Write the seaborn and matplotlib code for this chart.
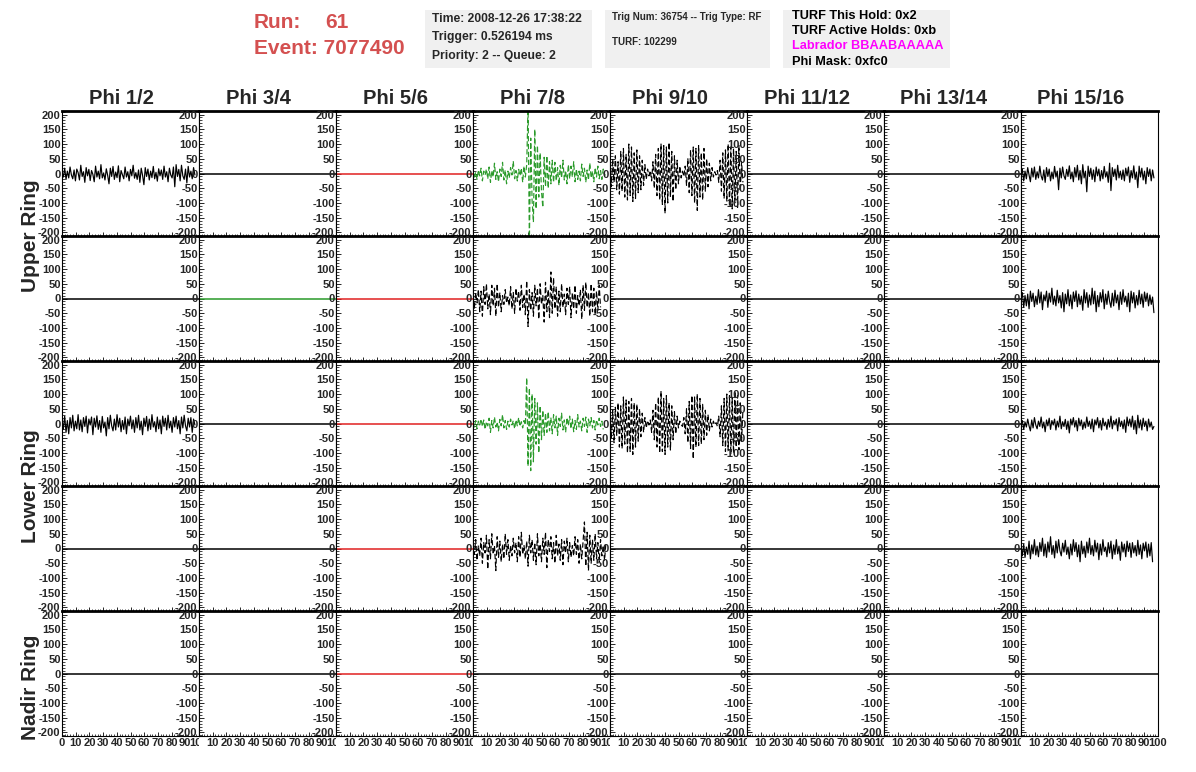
import numpy as np
import matplotlib
matplotlib.use("Agg")
import matplotlib.pyplot as plt
import seaborn as sns
from matplotlib.patches import Rectangle
from matplotlib.transforms import Bbox, TransformedBbox
from matplotlib.ticker import MultipleLocator

sns.set_style("ticks")
plt.rcParams["font.family"] = ["Liberation Sans", "DejaVu Sans"]

# ---------------- data ----------------
RUN = "61"
EVENT = "7077490"
INFO_TIME = ["Time: 2008-12-26 17:38:22", "Trigger: 0.526194 ms", "Priority: 2 -- Queue: 2"]
INFO_TRIG = ["Trig Num: 36754 -- Trig Type: RF", "TURF: 102299"]
INFO_TURF = ["TURF This Hold: 0x2", "TURF Active Holds: 0xb", "Labrador BBAABAAAAA", "Phi Mask: 0xfc0"]

PHI_LABELS = ["Phi 1/2", "Phi 3/4", "Phi 5/6", "Phi 7/8", "Phi 9/10", "Phi 11/12", "Phi 13/14", "Phi 15/16"]
RING_LABELS = ["Upper Ring", "Lower Ring", "Nadir Ring"]
X_TICKS = [0, 10, 20, 30, 40, 50, 60, 70, 80, 90, 100]
X_TICK_LABELS = ["0", "10", "20", "30", "40", "50", "60", "70", "80", "90", "100"]
Y_TICKS = [-200, -150, -100, -50, 0, 50, 100, 150, 200]
Y_TICK_LABELS = ["-200", "-150", "-100", "-50", "0", "50", "100", "150", "200"]

DT = 0.98  # ns per sample
FLAT_DT = 1.0
flat = [0] * 101

up1_phi12 = [5, -12, 18, -20, 8, -15, 22, -5, -18, 12, -25, 15, 3, -22, 28, -10, 6, -30, 20, -8, 14, -24, 10, -3,
             -28, 25, -12, 8, -18, 30, -15, 2, -22, 16, -6, -35, 18, -10, 24, -20, 5, -14, 26, -28, 10, -4, -18, 22,
             -12, 6, -25, 14, -8, 28, -16, 3, -20, 12, -30, 18, -6, -38, 20, -10, 15, -22, 8, -14, 24, -18, 4, -26,
             16, -8, 12, -20, 25, -12, 6, -28, 18, -5, -15, 22, -45, 30, -10, 14, -25, 28, -8, -20, 15, -32, 24, -12,
             8, -18, 20, -5]
up1_phi78 = [10, -15, 5, -20, 12, -8, 18, -25, 8, -5, 15, -18, 22, -30, 10, -12, 35, -20, 6, -28, 15, -10, 38, -22,
             12, -35, 8, -15, 20, -5, 42, -18, 10, -25, 14, -8, 18, -30, 25, -12,
             30, 230, -230, 120, -90, -165, 150, -120, 95, -80, 70, -60, -115, 55, -45, 60, -50, 40, -35, 45,
             -30, 38, -25, 20, -40, 28, -15, 45, -22, 10, -35, 30, -18, 25, -12, 40, -28, 15, -20, 8, -25, 32, -10,
             18, -30, 12, -22, 35, -15, 8, -28, 20, -12, 25, -18, 10, -20, 15, -8, 5]
up1_phi910 = [20, -45, 50, -30, 60, -55, 40, -70, 75, -60, 85, -80, 65, -90, 100, -75, 90, -95, 70, -85, 80, -65, 60,
              -55, 45, -40, 30, -20, 15, -8,
              10, -25, 40, -50, 65, -75, 85, -90, 100, -105, 95, -135, 90, -100, 105, -80, 75, -95, 60, -55, 45, -35,
              25, -15, 8,
              -10, 25, -40, 50, -65, 80, -75, 90, -100, 85, -125, 95, -80, 70, -90, 85, -60, 50, -45, 35, -25, 20,
              -12, 6, -5,
              10, -30, 45, -60, 70, -85, 80, -95, 100, -110, 90, -120, 85, -100, 75, -115, 95, -60, 40, -30]
up1_phi1516 = [-10, 15, -25, 8, -18, 20, -5, -28, 18, -12, 22, -20, 6, -15, 25, -8, -22, 12, -30, 20, -10, 15, -25, 5,
               -18, 24, -12, 8, -55, 18, -15, 22, -8, -20, 14, -10, 26, -18, 5, -28, 20, -12, 28, -22, 10, -35, 30,
               -15, 8, -62, 25, -10, 18, -20, 12, -28, 22, -8, 15, -25, 10, -18, 24, -12, 6, -30, 35, -58, 20, -10,
               15, -22, 28, -15, 8, -20, 12, -25, 18, -8, 22, -30, 10, -15, 26, -20, 5, -48, 25, -12, 18, -22, 8,
               -35, 20, -10, 15, -25, 12, -15]
up2_phi78 = [10, -35, 20, -15, 30, -45, 25, -60, 40, -20, 50, -35, 15, -55, 45, -25, 35, -60, 50, -30, 20, -45, 10,
             -20, 30, -15, 5, -25, 40, -35, 20, -50, 35, -10, 25, -40, 45, -30, 15, -55, 60, -95, 30, -40, 20, -60, 45,
             -25, 35, -70, 50, -20, 10, -80, 55, -45, 30, -65, 90, -50, 70, -35, 40, -60, 25, -45, 50, -30, 15, -55,
             35, -20, 40, -65, 20, -35, 45, -50, 10, -25, 30, -70, 45, -40, 55, -30, 20, -60, 50, -45, 35, -55, 25,
             -40, 45, -30]
up2_phi1516 = [-5, 20, -30, 10, -25, 15, -35, 25, -10, 18, -28, 8, -20, 30, -15, 22, -38, 12, -8, 25, -30, 18, -12, 35,
               -20, 8, -25, 28, -15, 10, -32, 20, -45, 15, -18, 30, -25, 12, -35, 22, -10, 26, -28, 15, -20, 8, -40,
               30, -15, 20, -30, 12, -22, 35, -18, 25, -45, 10, -28, 20, -12, 30, -35, 15, -20, 25, -10, -30, 18, -25,
               28, -15, 12, -38, 22, -20, 30, -12, 8, -28, 18, -45, 25, -15, 20, -32, 10, -22, 28, -18, 15, -30, 22,
               -10, 18, -25, 12, -20, 5, -48]
lo1_phi12 = [15, -20, 25, -30, 10, -35, 20, -15, 28, -25, 8, -18, 30, -22, 12, -28, 20, -10, 25, -32, 15, -5, 22, -38,
             18, -12, 26, -20, 10, -30, 24, -15, 5, -42, 20, -18, 28, -8, -25, 15, -22, 30, -12, 18, -28, 10, -20, 22,
             -35, 15, -8, 25, -18, 12, -30, 20, -15, 28, -22, 8, -38, 18, -10, 24, -25, 15, -20, 30, -12, 6, -28, 22,
             -18, 12, -35, 25, -10, 18, -22, 28, -15, 8, -30, 20, -12, 25, -18, 10, -35, 22, -15, 28, -8, -25, 18,
             -12, 20, -30, 15, -5]
lo1_phi78 = [5, -12, 10, -18, 8, -5, 15, -10, 12, -20, 6, -8, 18, -30, 10, -15, 22, -12, 5, -25, 14, -8, 30, -15, 10,
             -20, 8, -12, 15, -5, 10, -18, 12, -8, 20, -10, 6, -15, 10, -5,
             155, -145, 120, -160, 100, -130, 85, -70, 70, -100, 60, -55, 45, -40, 35, -30, 40, -25, 20, -35, 30,
             -15, 25, -40, 18, -10, 35, -22, 12, -30, 20, -8, 25, -18, 15, -28, 10, -20, 30, -12, 8, -25, 18, -10,
             22, -30, 15, -8, 20, -15, 10, -22, 12, -5, 18, -10, 8, -20]
lo1_phi910 = [30, -50, 45, -65, 55, -40, 70, -80, 60, -85, 90, -70, 80, -100, 75, -95, 85, -105, 70, -80, 65, -60, 50,
              -45, 35, -30, 20, -15, 10, -5,
              12, -30, 45, -55, 70, -80, 90, -100, 110, -95, 85, -105, 95, -80, 70, -90, 60, -55, 40, -35, 25, -15, 8,
              -4,
              -10, 20, -35, 50, -65, 75, -85, 95, -120, 90, -80, 100, -75, 85, -70, 65, -55, 45, -40, 30, -25, 15,
              -12, 8, -5, 3,
              -10, 25, -45, 60, -75, 85, -95, 100, -90, 95, -105, 85, -100, 110, -80, 95, -90, 70, -60, 45]
lo1_phi1516 = [-5, 10, -20, 5, -12, 15, -8, -25, 12, -15, 20, -5, -18, 8, -10, 22, -15, 5, -28, 12, -8, 18, -20, 10,
               -5, 15, -22, 8, -12, 25, -18, 6, -10, 14, -20, 8, -32, 15, -5, 20, -12, 10, -25, 18, -8, 12, -20, 5,
               -15, 22, -10, 8, -18, 15, -28, 12, -5, 20, -15, 10, -22, 18, -8, 5, -20, 14, -12, 25, -18, 10, -5, 15,
               -25, 20, -10, 8, -18, 12, -30, 22, -8, 15, -12, 25, -20, 10, -35, 28, -15, 12, -22, 18, -10, 8, -25,
               15, -12, 5, -20, -10]
lo2_phi78 = [15, -20, 30, -40, 10, -25, 35, -50, 20, -15, 45, -70, 30, -35, 50, -20, 10, -75, 40, -30, 25, -45, 15,
             -35, 50, -20, 30, -40, 10, -25, 35, -15, 20, -45, 40, -30, 55, -20, 10, -35, 25, -60, 45, -15, 30, -40,
             20, -55, 50, -25, 15, -45, 35, -20, 55, -65, 30, -10, 40, -35, 20, -50, 45, -25, 15, -40, 30, -55, 25,
             -15, 35, -45, 20, -30, 10, -25, 40, -20, 30, -50, 15, -35, 25, 90, -60, 55, -75, 45, -50, 30, -40, 50,
             -35, 20, -45, 30, -25, 10, -40, 20]
lo2_phi1516 = [10, -25, 15, -30, 5, -20, 25, -35, 12, -18, 30, -22, 8, -28, 20, -10, 35, -25, 15, -30, 22, -12, 40,
               -20, 10, -32, 25, -15, 30, -8, -25, 18, -12, 28, -20, 5, -35, 15, -22, 30, -10, 20, -28, 12, -45, 25,
               -18, 8, -30, 22, -15, 35, -20, 10, -25, 28, -12, 18, -38, 15, -22, 30, -10, 5, -28, 20, -15, 25, -35,
               12, -20, 30, -18, 8, -40, 22, -12, 15, -28, 25, -10, 18, -30, 20, -15, 10, -25, 28, -20, 12, -35, 18,
               -8, 22, -30, 15, -25, 20, -45]

TRACES = {
    "up1_phi12": up1_phi12, "up1_phi78": up1_phi78, "up1_phi910": up1_phi910, "up1_phi1516": up1_phi1516,
    "up2_phi78": up2_phi78, "up2_phi1516": up2_phi1516,
    "lo1_phi12": lo1_phi12, "lo1_phi78": lo1_phi78, "lo1_phi910": lo1_phi910, "lo1_phi1516": lo1_phi1516,
    "lo2_phi78": lo2_phi78, "lo2_phi1516": lo2_phi1516,
}

GRID = [
    ["up1_phi12", "flat", "flat", "up1_phi78", "up1_phi910", "flat", "flat", "up1_phi1516"],
    ["flat", "flat", "flat", "up2_phi78", "flat", "flat", "flat", "up2_phi1516"],
    ["lo1_phi12", "flat", "flat", "lo1_phi78", "lo1_phi910", "flat", "flat", "lo1_phi1516"],
    ["flat", "flat", "flat", "lo2_phi78", "flat", "flat", "flat", "lo2_phi1516"],
    ["flat", "flat", "flat", "flat", "flat", "flat", "flat", "flat"],
]

# ---------------- styles ----------------
K, G, R = "black", "#2a9a2a", "#e02020"
COLORS = [
    [K, K, R, G, K, K, K, K],
    [K, G, R, K, K, K, K, K],
    [K, K, R, G, K, K, K, K],
    [K, K, R, K, K, K, K, K],
    [K, K, R, K, K, K, K, K],
]
DASHED_COLS = {3, 4}

W, H = 1196, 772
fig = plt.figure(figsize=(W / 100, H / 100), dpi=100)
fig.patch.set_facecolor("white")

X0, Y0, PW, PH = 62, 111, 137, 125
NROW, NCOL = 5, 8
TICK_FS = 8

def fx(px):
    return px / W

def fy(py):
    return 1 - py / H

for r in range(NROW):
    for c in range(NCOL):
        left = X0 + c * PW
        top = Y0 + r * PH
        ax = fig.add_axes([fx(left), fy(top + PH), PW / W, PH / H])
        ax.set_facecolor("white")
        key = GRID[r][c]
        col = COLORS[r][c]
        if key == "flat":
            vals = np.array(flat, dtype=float)
            t = np.arange(len(vals)) * FLAT_DT
            sns.lineplot(x=t, y=vals, ax=ax, color=col, linewidth=1.1,
                         estimator=None, sort=False, legend=False)
        else:
            vals = np.array(TRACES[key], dtype=float)
            t = np.arange(len(vals)) * DT
            ls = (0, (4.5, 2.2)) if c in DASHED_COLS else "-"
            sns.lineplot(x=t, y=vals, ax=ax, color=col, linewidth=0.85, linestyle=ls,
                         estimator=None, sort=False, legend=False)
        ax.set_xlim(0, 100)
        ax.set_ylim(-212, 212)
        ax.set_xlabel("")
        ax.set_ylabel("")
        ax.set_yticks(Y_TICKS, labels=Y_TICK_LABELS, fontsize=TICK_FS, fontweight="bold")
        ax.yaxis.set_minor_locator(MultipleLocator(10))
        ax.xaxis.set_minor_locator(MultipleLocator(2))
        ax.set_xticks(X_TICKS, labels=X_TICK_LABELS, fontsize=TICK_FS, fontweight="bold")
        ax.tick_params(axis="y", which="major", direction="in", length=3.6, width=0.7,
                       left=True, right=False, pad=1)
        ax.tick_params(axis="y", which="minor", direction="in", length=1.8, width=0.6,
                       left=True, right=False)
        ax.tick_params(axis="x", which="major", direction="in", length=3.0, width=0.7,
                       bottom=True, top=False, pad=1.5, labelbottom=(r == NROW - 1))
        ax.tick_params(axis="x", which="minor", direction="in", length=1.5, width=0.6,
                       bottom=True, top=False)
        for s in ("left", "bottom", "right"):
            ax.spines[s].set_linewidth(0.8)
            ax.spines[s].set_color("black")
        ax.spines["top"].set_linewidth(2.0)
        ax.spines["top"].set_color("black")
        ax.grid(False)
        if r == NROW - 1:
            right = W if c == NCOL - 1 else left + PW
            clip = TransformedBbox(Bbox.from_extents(fx(left) - (4 / W if c == 0 else 0), 0,
                                                     fx(right), 1), fig.transFigure)
            for i, lbl in enumerate(ax.get_xticklabels()):
                lbl.set_clip_on(True)
                lbl.set_clip_box(clip)
                if c > 0 and i == 0:
                    lbl.set_visible(False)

# column titles
for c, lab in enumerate(PHI_LABELS):
    cx = X0 + c * PW + PW / 2 - 9
    fig.text(fx(cx), fy(98), lab, ha="center", va="center", fontsize=14.5, fontweight="bold")

# ring labels
ring_centres = [Y0 + PH, Y0 + 3 * PH, 687]
for lab, cy in zip(RING_LABELS, ring_centres):
    fig.text(fx(30), fy(cy), lab, ha="center", va="center", rotation=90,
             fontsize=15, fontweight="bold")

# header
RED = "#d45050"
fig.text(fx(254), fy(23), "Run:", ha="left", va="center", fontsize=15, fontweight="bold", color=RED)
fig.text(fx(325), fy(23), RUN, ha="left", va="center", fontsize=15, fontweight="bold", color=RED)
fig.text(fx(254), fy(49), "Event: " + EVENT, ha="left", va="center", fontsize=15, fontweight="bold", color=RED)

for (bx0, bx1) in [(425, 592), (605, 770), (783, 950)]:
    fig.add_artist(Rectangle((fx(bx0), fy(68)), (bx1 - bx0) / W, 58 / H, transform=fig.transFigure,
                             facecolor="#f0f0f0", edgecolor="none", zorder=0))

for txt, yy in zip(INFO_TIME, [19, 37, 56]):
    fig.text(fx(432), fy(yy), txt, ha="left", va="center", fontsize=8.7, fontweight="bold")
for txt, yy in zip(INFO_TRIG, [17, 42]):
    fig.text(fx(612), fy(yy), txt, ha="left", va="center", fontsize=7, fontweight="bold")
turf_colors = ["black", "black", "#ff00ff", "black"]
for txt, yy, cc in zip(INFO_TURF, [16, 31, 46, 62], turf_colors):
    fig.text(fx(792), fy(yy), txt, ha="left", va="center", fontsize=9.2, fontweight="bold", color=cc)

fig.savefig("out.png", dpi=100, facecolor="white")
